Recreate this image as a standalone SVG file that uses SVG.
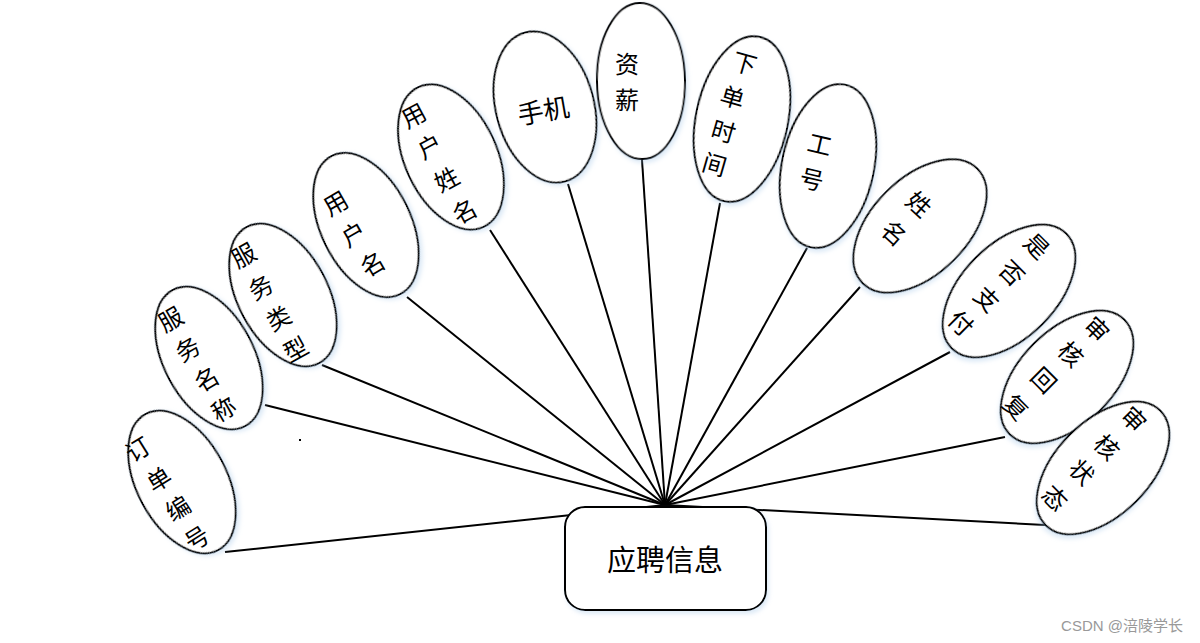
<svg xmlns="http://www.w3.org/2000/svg" width="1200" height="643" viewBox="0 0 1200 643">
<style>
.e{fill:#fff;stroke:#000;stroke-width:2;filter:url(#sh)}
.t{font-family:"Noto Sans CJK SC","Noto Sans CJK JP",sans-serif;font-size:24px;fill:#000;text-anchor:middle;dominant-baseline:central}
.c line{stroke:#000;stroke-width:2}
</style>
<defs>
<filter id="sh" x="-20%" y="-20%" width="140%" height="140%">
<feDropShadow dx="2" dy="3" stdDeviation="2" flood-color="#9fc3e6" flood-opacity="0.35"/>
</filter>
</defs>
<rect width="1200" height="643" fill="#fff"/>
<g class="c" id="connectors">
<line x1="665" y1="505" x2="225" y2="552"/>
<line x1="665" y1="505" x2="265" y2="405"/>
<line x1="665" y1="505" x2="322" y2="365"/>
<line x1="665" y1="505" x2="407" y2="297"/>
<line x1="665" y1="505" x2="490" y2="230"/>
<line x1="665" y1="505" x2="568" y2="184"/>
<line x1="665" y1="505" x2="642" y2="160"/>
<line x1="665" y1="505" x2="720" y2="203"/>
<line x1="665" y1="505" x2="807" y2="248"/>
<line x1="665" y1="505" x2="860" y2="287"/>
<line x1="665" y1="505" x2="950" y2="352"/>
<line x1="665" y1="505" x2="1005" y2="437"/>
<line x1="665" y1="505" x2="1045" y2="525"/>
</g>
<g id="main">
<rect x="565" y="507" width="201" height="103" rx="20" fill="#fff" stroke="#000" stroke-width="2" filter="url(#sh)"/>
<text x="665" y="558" class="t" style="font-size:29px">应聘信息</text>
</g>
<g id="n1">
<ellipse class="e" cx="0" cy="0" rx="45" ry="77" transform="translate(182,482) rotate(-28)"/>
<text class="t" transform="translate(137,448) rotate(-32)">订</text>
<text class="t" transform="translate(158,478) rotate(-32)">单</text>
<text class="t" transform="translate(177,507) rotate(-32)">编</text>
<text class="t" transform="translate(196,537) rotate(-32)">号</text>
</g>
<g id="n2">
<ellipse class="e" cx="0" cy="0" rx="45" ry="77" transform="translate(209,358) rotate(-28)"/>
<text class="t" transform="translate(170,318) rotate(-30)">服</text>
<text class="t" transform="translate(187,348) rotate(-30)">务</text>
<text class="t" transform="translate(206,378) rotate(-30)">名</text>
<text class="t" transform="translate(223,408) rotate(-30)">称</text>
</g>
<g id="n3">
<ellipse class="e" cx="0" cy="0" rx="45" ry="77" transform="translate(283,295) rotate(-28)"/>
<text class="t" transform="translate(243,254) rotate(-29)">服</text>
<text class="t" transform="translate(260,286) rotate(-29)">务</text>
<text class="t" transform="translate(278,317) rotate(-29)">类</text>
<text class="t" transform="translate(295,348) rotate(-29)">型</text>
</g>
<g id="n4">
<ellipse class="e" cx="0" cy="0" rx="45" ry="77" transform="translate(366,225) rotate(-26)"/>
<text class="t" transform="translate(335,202) rotate(-30)">用</text>
<text class="t" transform="translate(353,233) rotate(-30)">户</text>
<text class="t" transform="translate(372,263) rotate(-30)">名</text>
</g>
<g id="n5">
<ellipse class="e" cx="0" cy="0" rx="46" ry="77" transform="translate(451,157) rotate(-25)"/>
<text class="t" transform="translate(413,114) rotate(-28)">用</text>
<text class="t" transform="translate(429,145) rotate(-28)">户</text>
<text class="t" transform="translate(446,178) rotate(-28)">姓</text>
<text class="t" transform="translate(464,210) rotate(-28)">名</text>
</g>
<g id="n6">
<ellipse class="e" cx="0" cy="0" rx="49" ry="77" transform="translate(545,107) rotate(-15)"/>
<text class="t" transform="translate(543,109) rotate(-10)" style="font-size:26px">手机</text>
</g>
<g id="n7">
<ellipse class="e" cx="0" cy="0" rx="44" ry="78" transform="translate(641,81) rotate(-1)"/>
<text class="t" x="627" y="62">资</text>
<text class="t" x="627" y="98">薪</text>
</g>
<g id="n8">
<ellipse class="e" cx="0" cy="0" rx="46" ry="84" transform="translate(742,119) rotate(12)"/>
<text class="t" transform="translate(745,62) rotate(16)">下</text>
<text class="t" transform="translate(733,96) rotate(16)">单</text>
<text class="t" transform="translate(724,130) rotate(16)">时</text>
<text class="t" transform="translate(715,163) rotate(16)">间</text>
</g>
<g id="n9">
<ellipse class="e" cx="0" cy="0" rx="46" ry="83" transform="translate(828,166) rotate(12)"/>
<text class="t" transform="translate(820,143) rotate(13)">工</text>
<text class="t" transform="translate(812,178) rotate(13)">号</text>
</g>
<g id="n10">
<ellipse class="e" cx="0" cy="0" rx="48" ry="81" transform="translate(920,226) rotate(45)"/>
<text class="t" transform="translate(920,203) rotate(42)">姓</text>
<text class="t" transform="translate(895,232) rotate(42)">名</text>
</g>
<g id="n11">
<ellipse class="e" cx="0" cy="0" rx="47" ry="81" transform="translate(1009,291) rotate(45)"/>
<text class="t" transform="translate(1038,245) rotate(45)">是</text>
<text class="t" transform="translate(1013,272) rotate(45)">否</text>
<text class="t" transform="translate(988,298) rotate(45)">支</text>
<text class="t" transform="translate(962,322) rotate(45)">付</text>
</g>
<g id="n12">
<ellipse class="e" cx="0" cy="0" rx="47" ry="81" transform="translate(1067,377) rotate(45)"/>
<text class="t" transform="translate(1098,328) rotate(45)">审</text>
<text class="t" transform="translate(1072,353) rotate(45)">核</text>
<text class="t" transform="translate(1045,379) rotate(45)">回</text>
<text class="t" transform="translate(1017,406) rotate(45)">复</text>
</g>
<g id="n13">
<ellipse class="e" cx="0" cy="0" rx="47" ry="81" transform="translate(1103,468) rotate(45)"/>
<text class="t" transform="translate(1135,418) rotate(45)">审</text>
<text class="t" transform="translate(1108,446) rotate(45)">核</text>
<text class="t" transform="translate(1083,471) rotate(45)">状</text>
<text class="t" transform="translate(1056,497) rotate(45)">态</text>
</g>
<rect x="299" y="439" width="2" height="2" fill="#000"/>
<text x="1183" y="631" text-anchor="end" style="font-family:'Liberation Sans','Noto Sans CJK SC',sans-serif;font-size:15px;fill:#999">CSDN @涪陵学长</text>
</svg>
